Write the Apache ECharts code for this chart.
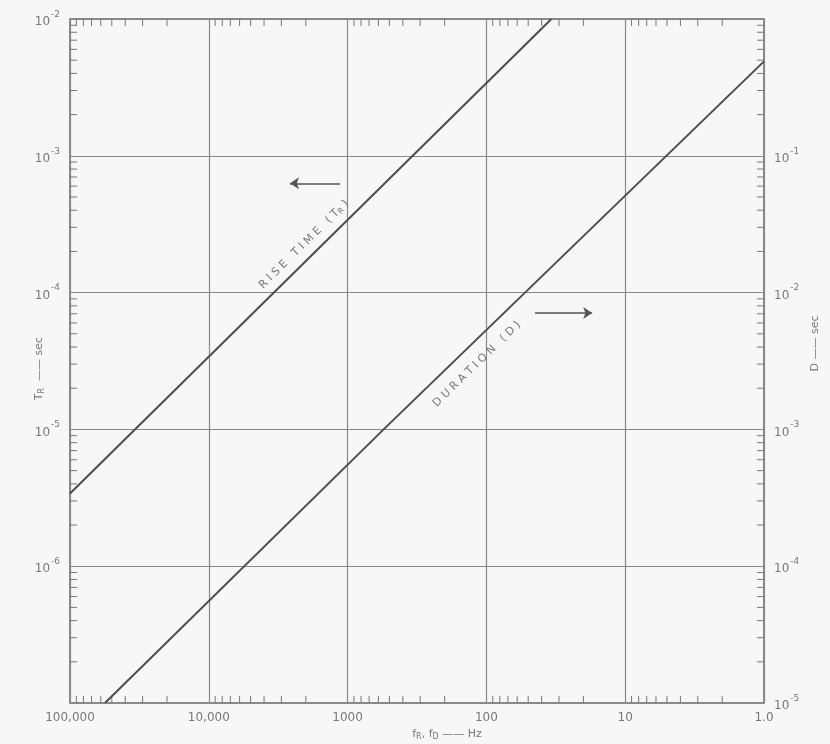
<!DOCTYPE html>
<html><head><meta charset="utf-8">
<script src="https://cdn.jsdelivr.net/npm/echarts@6/dist/echarts.min.js"></script>
<style>html,body{margin:0;padding:0;background:#f7f7f7}#c{width:830px;height:744px}</style>
</head><body><div id="c"></div>
<script>
// ---- data ----
const freqTickLabels = ['1.0', '10', '100', '1000', '10,000', '100,000']; // by exponent 0..5
const riseTimeFreq = [100000, 34];           // Hz
const riseTimeSec = [3.4e-6, 1e-2];          // T_R, sec (left axis)
const durationFreq = [56000, 550, 1];        // Hz
const durationSec = [1e-5, 1e-3, 0.49];      // D, sec (right axis)

const riseData = riseTimeFreq.map((f, i) => [f, riseTimeSec[i]]);
const durData = durationFreq.map((f, i) => [f, durationSec[i]]);

// minor log ticks (2..9 per decade)
const minorTicks = [];
for (let e = 0; e < 5; e++) for (let m = 2; m <= 9; m++) minorTicks.push([m * Math.pow(10, e), 1e-5, 0]);
for (let e = -7; e < -2; e++) for (let m = 2; m <= 9; m++) minorTicks.push([10, m * Math.pow(10, e), 1]);

const FONT = 'DejaVu Sans';
const TXT = '#777';
const LINE = '#4d4d4d';

function supLabel(v, hideExp) {
  const e = Math.round(Math.log10(v));
  if (e === hideExp) return '';
  return '{b|10}{s|-' + (-e) + '}';
}
const supRich = {
  b: { fontSize: 12, color: TXT, fontFamily: FONT, lineHeight: 18, verticalAlign: 'bottom' },
  s: { fontSize: 9, color: TXT, fontFamily: FONT, lineHeight: 18, verticalAlign: 'top', padding: [0, 0, 6, 1] }
};

const chart = echarts.init(document.getElementById('c'), null, { renderer: 'canvas' });

function lineAngle(api, a, b) {
  const p1 = api.coord(a), p2 = api.coord(b);
  return Math.atan2(p1[1] - p2[1], p2[0] - p1[0]);
}

chart.setOption({
  backgroundColor: '#f7f7f7',
  animation: false,
  grid: { left: 70, right: 66, top: 19, bottom: 41, outerBoundsMode: 'none', containLabel: false,
    show: true, borderColor: '#666', borderWidth: 1.5, backgroundColor: 'transparent' },
  xAxis: {
    type: 'log', logBase: 10, min: 1, max: 100000, inverse: true, splitNumber: 5,
    axisLine: { show: false }, axisTick: { show: false },
    splitLine: { show: true, lineStyle: { color: '#8a8a8a', width: 1.2 } },
    axisLabel: {
      margin: 9, color: TXT, fontFamily: FONT, fontSize: 12,
      formatter: v => freqTickLabels[Math.round(Math.log10(v))]
    },
    name: '{f|f}{s|R}{f|, f}{s|D}{f| —— Hz}', nameLocation: 'middle', nameGap: 24, nameMoveOverlap: false,
    nameTextStyle: {
      padding: [0, 0, 0, 60],
      rich: {
        f: { fontSize: 11, color: TXT, fontFamily: FONT },
        s: { fontSize: 8, color: TXT, fontFamily: FONT, padding: [6, 0, 0, 0] }
      }
    }
  },
  yAxis: [{
    type: 'log', logBase: 10, min: 1e-7, max: 1e-2, position: 'left', splitNumber: 5,
    axisLine: { show: false }, axisTick: { show: false },
    splitLine: { show: true, lineStyle: { color: '#8a8a8a', width: 1.2 } },
    axisLabel: { margin: 10, formatter: v => supLabel(v, -7), rich: supRich },
    name: '{f|T}{s|R}{f|  —— sec}', nameLocation: 'middle', nameRotate: 90, nameGap: 24, nameMoveOverlap: false,
    nameTextStyle: {
      padding: [0, 15, 0, 0],
      rich: {
        f: { fontSize: 11, color: TXT, fontFamily: FONT },
        s: { fontSize: 8, color: TXT, fontFamily: FONT, padding: [6, 0, 0, 0] }
      }
    }
  }, {
    type: 'log', logBase: 10, min: 1e-5, max: 1, position: 'right', splitNumber: 5,
    axisLine: { show: false }, axisTick: { show: false }, splitLine: { show: false },
    axisLabel: { margin: 10, formatter: v => supLabel(v, 0), rich: supRich },
    name: 'D —— sec', nameLocation: 'middle', nameRotate: 90, nameGap: 46, nameMoveOverlap: false,
    nameTextStyle: { fontSize: 11, color: TXT, fontFamily: FONT, padding: [0, 0, 0, 35] }
  }],
  series: [
    {
      name: 'minorTicks', type: 'custom', coordinateSystem: 'cartesian2d', xAxisIndex: 0, yAxisIndex: 0,
      data: minorTicks, silent: true, z: 1,
      renderItem: (params, api) => {
        const cs = params.coordSys;
        const L = 7;
        const st = { stroke: '#777', lineWidth: 1 };
        const p = api.coord([api.value(0), api.value(1)]);
        if (api.value(2) === 0) {
          const x = p[0];
          return { type: 'group', children: [
            { type: 'line', shape: { x1: x, y1: cs.y + cs.height, x2: x, y2: cs.y + cs.height - L }, style: st },
            { type: 'line', shape: { x1: x, y1: cs.y, x2: x, y2: cs.y + L }, style: st }
          ]};
        } else {
          const y = p[1];
          return { type: 'group', children: [
            { type: 'line', shape: { x1: cs.x, y1: y, x2: cs.x + L, y2: y }, style: st },
            { type: 'line', shape: { x1: cs.x + cs.width, y1: y, x2: cs.x + cs.width - L, y2: y }, style: st }
          ]};
        }
      }
    },
    {
      name: 'Rise time', type: 'line', xAxisIndex: 0, yAxisIndex: 0, data: riseData,
      showSymbol: false, symbol: 'none', lineStyle: { color: LINE, width: 2 }, z: 5
    },
    {
      name: 'Duration', type: 'line', xAxisIndex: 0, yAxisIndex: 1, data: durData,
      showSymbol: false, symbol: 'none', lineStyle: { color: LINE, width: 2 }, z: 5
    },
    {
      type: 'custom', coordinateSystem: 'cartesian2d', xAxisIndex: 0, yAxisIndex: 0,
      data: [[2060, 2.25e-4]], silent: true, z: 6,
      renderItem: (params, api) => {
        const p = api.coord([api.value(0), api.value(1)]);
        return { type: 'text', x: p[0], y: p[1], rotation: lineAngle(api, riseData[0], riseData[1]),
          style: { text: 'R I S E   T I M E   ( T{s|R} )', fill: TXT, font: '11px "DejaVu Sans"', align: 'center', verticalAlign: 'middle',
            rich: { s: { fontSize: 8, fill: TXT, fontFamily: FONT, padding: [5, 0, 0, 0] } } } };
      }
    },
    {
      type: 'custom', coordinateSystem: 'cartesian2d', xAxisIndex: 0, yAxisIndex: 1,
      data: [[117, 3.0e-3]], silent: true, z: 6,
      renderItem: (params, api) => {
        const p = api.coord([api.value(0), api.value(1)]);
        return { type: 'text', x: p[0], y: p[1], rotation: lineAngle(api, durData[0], durData[2]),
          style: { text: 'D U R A T I O N   ( D )', fill: TXT, font: '11px "DejaVu Sans"', align: 'center', verticalAlign: 'middle' } };
      }
    },
    {
      type: 'lines', coordinateSystem: 'cartesian2d', xAxisIndex: 0, yAxisIndex: 0, silent: true, z: 6,
      symbol: ['none', 'arrow'], symbolSize: [0, 9],
      lineStyle: { color: '#555', width: 1.5, opacity: 1 },
      data: [{ coords: [[1135, 6.3e-4], [2600, 6.3e-4]] }]
    },
    {
      type: 'lines', coordinateSystem: 'cartesian2d', xAxisIndex: 0, yAxisIndex: 1, silent: true, z: 6,
      symbol: ['none', 'arrow'], symbolSize: [0, 9],
      lineStyle: { color: '#555', width: 1.5, opacity: 1 },
      data: [{ coords: [[44.7, 7.1e-3], [17.3, 7.1e-3]] }]
    }
  ]
});
</script>
</body></html>
